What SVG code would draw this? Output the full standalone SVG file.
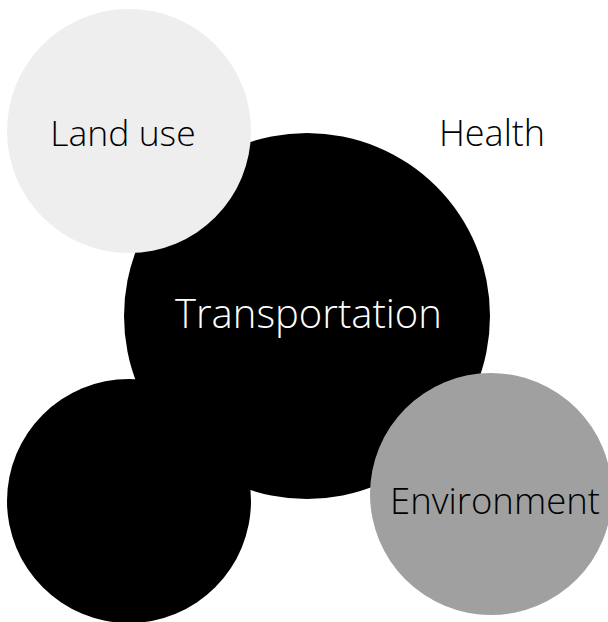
<svg xmlns="http://www.w3.org/2000/svg" width="608" height="622" viewBox="0 0 608 622">
  <style>
    .lbl { font-family: "Open Sans", "Noto Sans", "Liberation Sans", sans-serif; font-weight: 300; text-anchor: middle; }
    .dark { fill: #000000; }
    .light { fill: #ffffff; }
  </style>
  <rect width="608" height="622" fill="#ffffff"/>
  <g id="connectors"/>
  <g id="health">
    <circle cx="491" cy="131" r="122" fill="#ffffff"/>
    <text class="lbl dark" x="492" y="146" font-size="36">Health</text>
  </g>
  <g id="transportation">
    <circle cx="307" cy="316" r="183" fill="#000000"/>
    <text class="lbl light" x="308.5" y="328" font-size="40">Transportation</text>
  </g>
  <g id="unnamed">
    <circle cx="129" cy="501" r="122" fill="#000000"/>
  </g>
  <g id="land-use">
    <circle cx="129" cy="131" r="122" fill="#eeeeee"/>
    <text class="lbl dark" x="123" y="146" font-size="35.5">Land use</text>
  </g>
  <g id="environment">
    <circle cx="491" cy="494" r="121" fill="#a0a0a0"/>
    <text class="lbl dark" x="495" y="514" font-size="36.5">Environment</text>
  </g>
</svg>
